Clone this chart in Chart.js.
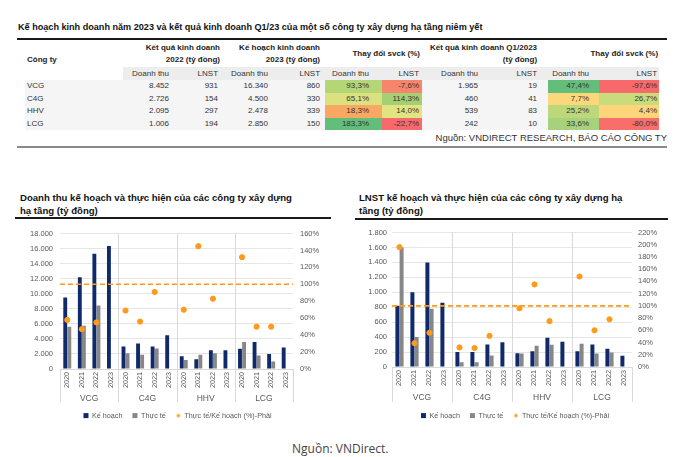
<!DOCTYPE html>
<html>
<head>
<meta charset="utf-8">
<script src="https://cdn.jsdelivr.net/npm/chart.js@4.4.0/dist/chart.umd.min.js"></script>
<style>
  body { margin: 0; width: 680px; height: 457px; background: #fff; position: relative; overflow: hidden;
         font-family: 'Liberation Sans', Arial, sans-serif; color: #222; }
  .abs { position: absolute; }
  #tblTitle { left: 18px; top: 22px; font-size: 9.1px; font-weight: bold; white-space: nowrap; color: #111; }
  .rule { height: 2px; background: #1a1a1a; }
  #tbl { left: 25px; top: 40px; width: 634px; border-collapse: collapse; table-layout: fixed; }
  #tbl td, #tbl th { padding: 0; font-size: 8px; white-space: nowrap; text-align: right; overflow: visible; }
  #tbl th { font-weight: bold; line-height: 12px; height: 26px; vertical-align: middle; color: #222; }
  #tbl tr.sub td { height: 13px; line-height: 13px; color: #333; }
  #tbl tr.row td { height: 12.5px; line-height: 12.5px; color: #333; background: #f5f5f5; }
  #tblSrc { right: 13px; top: 132px; font-size: 9.5px; color: #333; white-space: nowrap; }
  .ctitle { font-size: 9.6px; font-weight: bold; line-height: 13px; color: #111; white-space: nowrap; }
  #src { left: 292px; top: 440px; font-family: 'Open Sans', 'Liberation Sans', sans-serif; font-size: 12px; color: #444; }
</style>
</head>
<body>
<div id="tblTitle" class="abs">Kế hoạch kinh doanh năm 2023 và kết quả kinh doanh Q1/23 của một số công ty xây dựng hạ tầng niêm yết</div>
<div class="abs rule" style="left:17px;top:38px;width:650px"></div>
<table id="tbl" class="abs">
  <colgroup id="cols"></colgroup>
  <thead>
    <tr>
      <th style="text-align:left;padding-left:2px;vertical-align:bottom;padding-bottom:1px">Công ty</th>
      <th colspan="2" style="padding-right:1px">Kết quả kinh doanh<br>2022 (tỷ đồng)</th>
      <th colspan="2" style="padding-right:5px">Kế hoạch kinh doanh<br>2023 (tỷ đồng)</th>
      <th colspan="2" style="padding-right:2px">Thay đổi svck (%)</th>
      <th colspan="2" style="padding-right:11px">Kết quả kinh doanh Q1/2023<br>(tỷ đồng)</th>
      <th colspan="2" style="padding-right:1px">Thay đổi svck (%)</th>
    </tr>
  </thead>
  <tbody id="tbody"></tbody>
</table>
<div id="tblSrc" class="abs">Nguồn: VNDIRECT RESEARCH, BÁO CÁO CÔNG TY</div>
<div class="abs" style="left:17px;top:146px;width:650px;height:2px;background:#8a8a8a"></div>

<div class="abs ctitle" style="left:20px;top:191px">Doanh thu kế hoạch và thực hiện của các công ty xây dựng<br>hạ tầng (tỷ đồng)</div>
<div class="abs rule" style="left:15px;top:217px;width:316px"></div>
<canvas id="cDT" class="abs" style="left:15px;top:222px" width="325" height="200"></canvas>

<div class="abs ctitle" style="left:359px;top:191px">LNST kế hoạch và thực hiện của các công ty xây dựng hạ<br>tầng (tỷ đồng)</div>
<div class="abs rule" style="left:355px;top:218px;width:313px"></div>
<canvas id="cLN" class="abs" style="left:350px;top:222px" width="330" height="200"></canvas>

<div id="src" class="abs">Nguồn: VNDirect.</div>

<script>
// ---- bảng ----
const companies = ['VCG', 'C4G', 'HHV', 'LCG'];
const dt2022 = [8452, 2726, 2095, 1006];
const ln2022 = [931, 154, 297, 194];
const dtKH2023 = [16340, 4500, 2478, 2850];
const lnKH2023 = [860, 330, 339, 150];
const svckDT = [93.3, 65.1, 18.3, 183.3];
const svckLN = [-7.6, 114.3, 14.0, -22.7];
const q1DT = [1965, 460, 539, 242];
const q1LN = [19, 41, 83, 10];
const q1svckDT = [47.4, 7.7, 25.2, 33.6];
const q1svckLN = [-97.6, 26.7, 4.4, -80.0];

// ---- biểu đồ ----
const groups = ['VCG', 'C4G', 'HHV', 'LCG'];
const years = ['2020', '2021', '2022', '2023'];
const seriesNames = ['Kế hoạch', 'Thực tế', 'Thực tế/Kế hoạch (%)-Phải'];

// Doanh thu (tỷ đồng)
const dtKeHoach = [9500, 12200, 15300, 16340, 3000, 3400, 3000, 4500, 1700, 1300, 2500, 2478, 2700, 3600, 2000, 2850];
const dtThucTe  = [5600, 5750, 8452, null, 2100, 1900, 2726, null, 1200, 1900, 2095, null, 3600, 1800, 1006, null];
const dtTyLe    = [58, 47, 55, null, 69, 56, 91, null, 70, 145, 83, null, 132, 50, 50, null];

// LNST (tỷ đồng)
const lnKeHoach = [820, 1000, 1400, 860, 200, 200, 300, 330, 185, 210, 390, 339, 210, 300, 245, 150];
const lnThucTe  = [1600, 400, 780, null, 62, 62, 154, null, 180, 285, 297, null, 310, 180, 194, null];
const lnTyLe    = [196, 39, 56, null, 32, 31, 51, null, 96, 135, 75, null, 148, 60, 78, null];

const refLine = 100;

// ---- build table ----
const colW = [98, 49, 49, 50, 54, 57, 40, 59, 67, 51, 60];
const padR = [0, 3, 3, 3, 5, 13, 3, 3, 11, 10, 2];
const heat = {
  5: ['#b5d676', '#dbe17e', '#f9a863', '#63be7b'],
  6: ['#f5866c', '#a5cf73', '#e2e47f', '#f8696b'],
  9: ['#63be7b', '#fdd87a', '#bcd87b', '#a6d27c'],
  10: ['#f8696b', '#c8dc7c', '#fed57b', '#f86e6b']
};
const fmtNum = v => String(v).replace(/\B(?=(\d{3})+(?!\d))/g, '.');
const fmtPct = v => v.toFixed(1).replace('.', ',') + '%';

const cols = document.getElementById('cols');
colW.forEach(w => { const c = document.createElement('col'); c.style.width = w + 'px'; cols.appendChild(c); });

const tbody = document.getElementById('tbody');
const sub = document.createElement('tr');
sub.className = 'sub';
['', 'Doanh thu', 'LNST', 'Doanh thu', 'LNST', 'Doanh thu', 'LNST', 'Doanh thu', 'LNST', 'Doanh thu', 'LNST'].forEach((t, i) => {
  const td = document.createElement('td');
  td.textContent = t;
  td.style.paddingRight = padR[i] + 'px';
  if (i > 0) td.style.background = '#ededed';
  sub.appendChild(td);
});
tbody.appendChild(sub);

companies.forEach((c, r) => {
  const tr = document.createElement('tr');
  tr.className = 'row';
  const vals = [c, fmtNum(dt2022[r]), fmtNum(ln2022[r]), fmtNum(dtKH2023[r]), fmtNum(lnKH2023[r]),
    fmtPct(svckDT[r]), fmtPct(svckLN[r]), fmtNum(q1DT[r]), fmtNum(q1LN[r]), fmtPct(q1svckDT[r]), fmtPct(q1svckLN[r])];
  vals.forEach((t, i) => {
    const td = document.createElement('td');
    td.textContent = t;
    if (i === 0) { td.style.textAlign = 'left'; td.style.paddingLeft = '2px'; }
    td.style.paddingRight = padR[i] + 'px';
    if (heat[i]) td.style.background = heat[i][r];
    tr.appendChild(td);
  });
  tbody.appendChild(tr);
});

// ---- charts ----
const FONT = "'Liberation Sans', Arial, sans-serif";
const NAVY = '#10296a';
const GREY = '#878787';
const ORANGE = '#ff9a1a';
const TICK = '#595959';
Chart.defaults.font.family = FONT;

const labels = [];
groups.forEach(() => years.forEach(y => labels.push(y)));

const dotImg = document.createElement('canvas');
dotImg.width = 6; dotImg.height = 6;
const dctx = dotImg.getContext('2d');
dctx.fillStyle = ORANGE;
dctx.beginPath(); dctx.arc(3, 3, 1.7, 0, Math.PI * 2); dctx.fill();

const groupLines = {
  id: 'groupLines',
  beforeDatasetsDraw(chart) {
    const { ctx, chartArea: a, scales: { x, x2 } } = chart;
    ctx.save();
    ctx.strokeStyle = '#d9d9d9';
    ctx.lineWidth = 1;
    for (let g = 0; g <= groups.length; g++) {
      let px;
      if (g === 0) px = a.left;
      else if (g === groups.length) px = a.right;
      else px = (x.getPixelForValue(g * years.length - 1) + x.getPixelForValue(g * years.length)) / 2;
      const top = (g === 0 || g === groups.length) ? a.bottom : a.top;
      px = Math.round(px) + 0.5;
      ctx.beginPath(); ctx.moveTo(px, top); ctx.lineTo(px, x2.bottom); ctx.stroke();
    }
    ctx.restore();
  },
  afterDatasetsDraw(chart) {
    const { ctx, chartArea: a, scales: { y1 } } = chart;
    const py = y1.getPixelForValue(refLine);
    ctx.save();
    ctx.strokeStyle = ORANGE;
    ctx.lineWidth = 1.6;
    ctx.setLineDash([5, 3]);
    ctx.beginPath(); ctx.moveTo(a.left, py); ctx.lineTo(a.right, py); ctx.stroke();
    ctx.restore();
  }
};

function buildChart(id, kh, tt, tl, yMax, yStep, y1Max, box) {
  return new Chart(document.getElementById(id), {
    type: 'bar',
    data: {
      labels: labels,
      datasets: [
        { label: seriesNames[0], data: kh, backgroundColor: NAVY, barPercentage: 0.95, categoryPercentage: 0.56 },
        { label: seriesNames[1], data: tt, backgroundColor: GREY, barPercentage: 0.95, categoryPercentage: 0.56 },
        { type: 'line', label: seriesNames[2], data: tl, yAxisID: 'y1', showLine: false, order: -1,
          pointRadius: 2.6, pointBackgroundColor: ORANGE, pointBorderColor: ORANGE, borderColor: ORANGE, backgroundColor: ORANGE }
      ]
    },
    options: {
      responsive: false,
      animation: false,
      layout: { padding: { top: box.top, left: 0, right: 0, bottom: 0 } },
      plugins: {
        tooltip: { enabled: false },
        legend: {
          position: 'bottom',
          maxHeight: 20,
          labels: {
            usePointStyle: true, boxWidth: 5, boxHeight: 5, padding: 10, color: TICK,
            font: { size: 7.2 },
            generateLabels(chart) {
              const items = Chart.defaults.plugins.legend.labels.generateLabels(chart);
              items.sort((a, b) => a.datasetIndex - b.datasetIndex);
              items.forEach(it => { it.pointStyle = it.datasetIndex < 2 ? 'rect' : dotImg; it.lineWidth = 0; });
              return items;
            }
          }
        }
      },
      scales: {
        x: {
          type: 'category', offset: true, weight: 0,
          grid: { display: false, drawTicks: false },
          border: { display: true, color: '#d9d9d9' },
          ticks: { autoSkip: false, minRotation: 90, maxRotation: 90, padding: 3, color: TICK, font: { size: 7.2 } },
          afterFit: s => { s.height = box.xh; }
        },
        x2: {
          type: 'category', labels: groups, position: 'bottom', offset: true, weight: 1,
          grid: { display: false, drawTicks: false },
          border: { display: false },
          ticks: { padding: 3, color: TICK, font: { size: 8.5 } },
          afterFit: s => { s.height = box.x2h; }
        },
        y: {
          position: 'left', min: 0, max: yMax,
          grid: { color: '#e6e6e6', drawTicks: false },
          border: { display: false },
          ticks: { stepSize: yStep, autoSkip: false, padding: box.yPad, color: TICK, font: { size: 7.5 }, callback: v => fmtNum(v) },
          afterFit: s => { s.width = box.yw; }
        },
        y1: {
          position: 'right', min: 0, max: y1Max,
          grid: { display: false, drawTicks: false },
          border: { display: false },
          ticks: { stepSize: 20, autoSkip: false, padding: box.y1Pad, color: TICK, font: { size: 7.5 }, callback: v => v + '%' },
          afterFit: s => { s.width = box.y1w; }
        }
      }
    },
    plugins: [groupLines]
  });
}

buildChart('cDT', dtKeHoach, dtThucTe, dtTyLe, 18000, 2000, 160,
  { top: 9, xh: 22, x2h: 11, yw: 45, y1w: 47, yPad: 7, y1Pad: 7 });
buildChart('cLN', lnKeHoach, lnThucTe, lnTyLe, 1800, 200, 220,
  { top: 6, xh: 23, x2h: 12, yw: 42, y1w: 48, yPad: 5, y1Pad: 6 });
</script>
</body>
</html>
